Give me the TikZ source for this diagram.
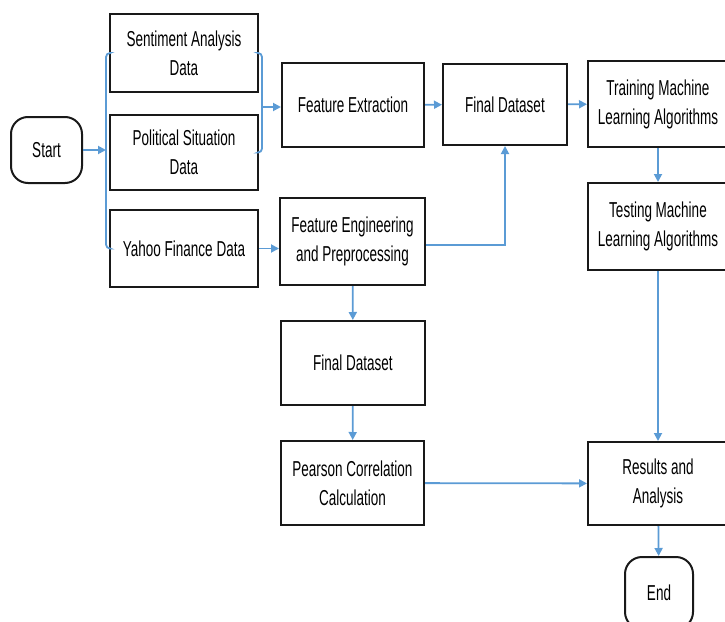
\documentclass[tikz,border=0pt]{standalone}
\usepackage{fontspec}
\setmainfont[FakeStretch=0.625]{Liberation Sans}
\usepackage{tikz}
\usetikzlibrary{shapes,arrows,arrows.meta}
\definecolor{linkblue}{RGB}{91,155,213}

\begin{document}
\begin{tikzpicture}[x=1pt,y=-1pt,font=\fontsize{21.6pt}{29pt}\selectfont,
    >={Triangle[length=8pt,width=8pt]}]
      \tikzstyle{point} = [coordinate]
      \tikzstyle{box} = [rectangle, draw=black!90, line width=2pt, align=center, inner sep=0pt]
      \tikzstyle{term} = [box, rounded corners=17pt]
      \tikzstyle{bus} = [draw=linkblue, line width=1.8pt]
      \tikzstyle{link} = [bus, ->]
      \useasboundingbox (0,0) rectangle (725,621);
      % input column
      \node (start) [term, minimum width=71pt, minimum height=66pt] at (46.5,150) {Start};
      \node (senti) [box, minimum width=148pt, minimum height=78pt] at (184,53) {Sentiment Analysis\\Data};
      \node (polit) [box, minimum width=148pt, minimum height=75pt] at (184,152.5) {Political Situation\\Data};
      \node (yahoo) [box, minimum width=148pt, minimum height=77pt] at (184,248.5) {Yahoo Finance Data};
      \node (lbar) [point] at (106,150) {};
      \node (rbar) [point] at (262,107) {};
      % middle column
      \node (featx) [box, minimum width=142pt, minimum height=84pt] at (353,105) {Feature Extraction};
      \node (feng) [box, minimum width=145pt, minimum height=87pt] at (352.5,241.5) {Feature Engineering\\and Preprocessing};
      \node (fd2) [box, minimum width=144pt, minimum height=84pt] at (353,363) {Final Dataset};
      \node (pears) [box, minimum width=143pt, minimum height=84pt] at (352.5,483) {Pearson Correlation\\Calculation};
      % right columns
      \node (fd1) [box, minimum width=124pt, minimum height=81pt] at (505,104.5) {Final Dataset};
      \node (train) [box, minimum width=140pt, minimum height=86pt] at (658,104) {Training Machine\\Learning Algorithms};
      \node (test) [box, minimum width=140pt, minimum height=87pt] at (658,226.5) {Testing Machine\\Learning Algorithms};
      \node (res) [box, minimum width=140pt, minimum height=83pt] at (658,483.5) {Results and\\Analysis};
      \node (end) [term, minimum width=68pt, minimum height=72pt] at (659,593) {End};
      \draw [link] (start) -- (lbar);
      \draw [bus, rounded corners=4pt] (senti.west) -| (lbar) |- (yahoo.west);
      \draw [bus, rounded corners=4pt] (senti.east) -| (rbar) |- (polit.east);
      \draw [link] (rbar) -- (rbar -| featx.west);
      \draw [link] (featx) -- (fd1);
      \draw [link] (fd1) -- (train);
      \draw [link] (train) -- (test);
      \draw [link] (yahoo) -- (yahoo -| feng.west);
      \draw [link] ([yshift=-3.5pt]feng.east) -| (fd1);
      \draw [link] (feng) -- (fd2);
      \draw [link] (fd2) -- (pears);
      \draw [link] (pears) -- (res);
      \draw [link] (test) -- (res);
      \draw [link] (res) -- (end);
    \end{tikzpicture}
\end{document}
